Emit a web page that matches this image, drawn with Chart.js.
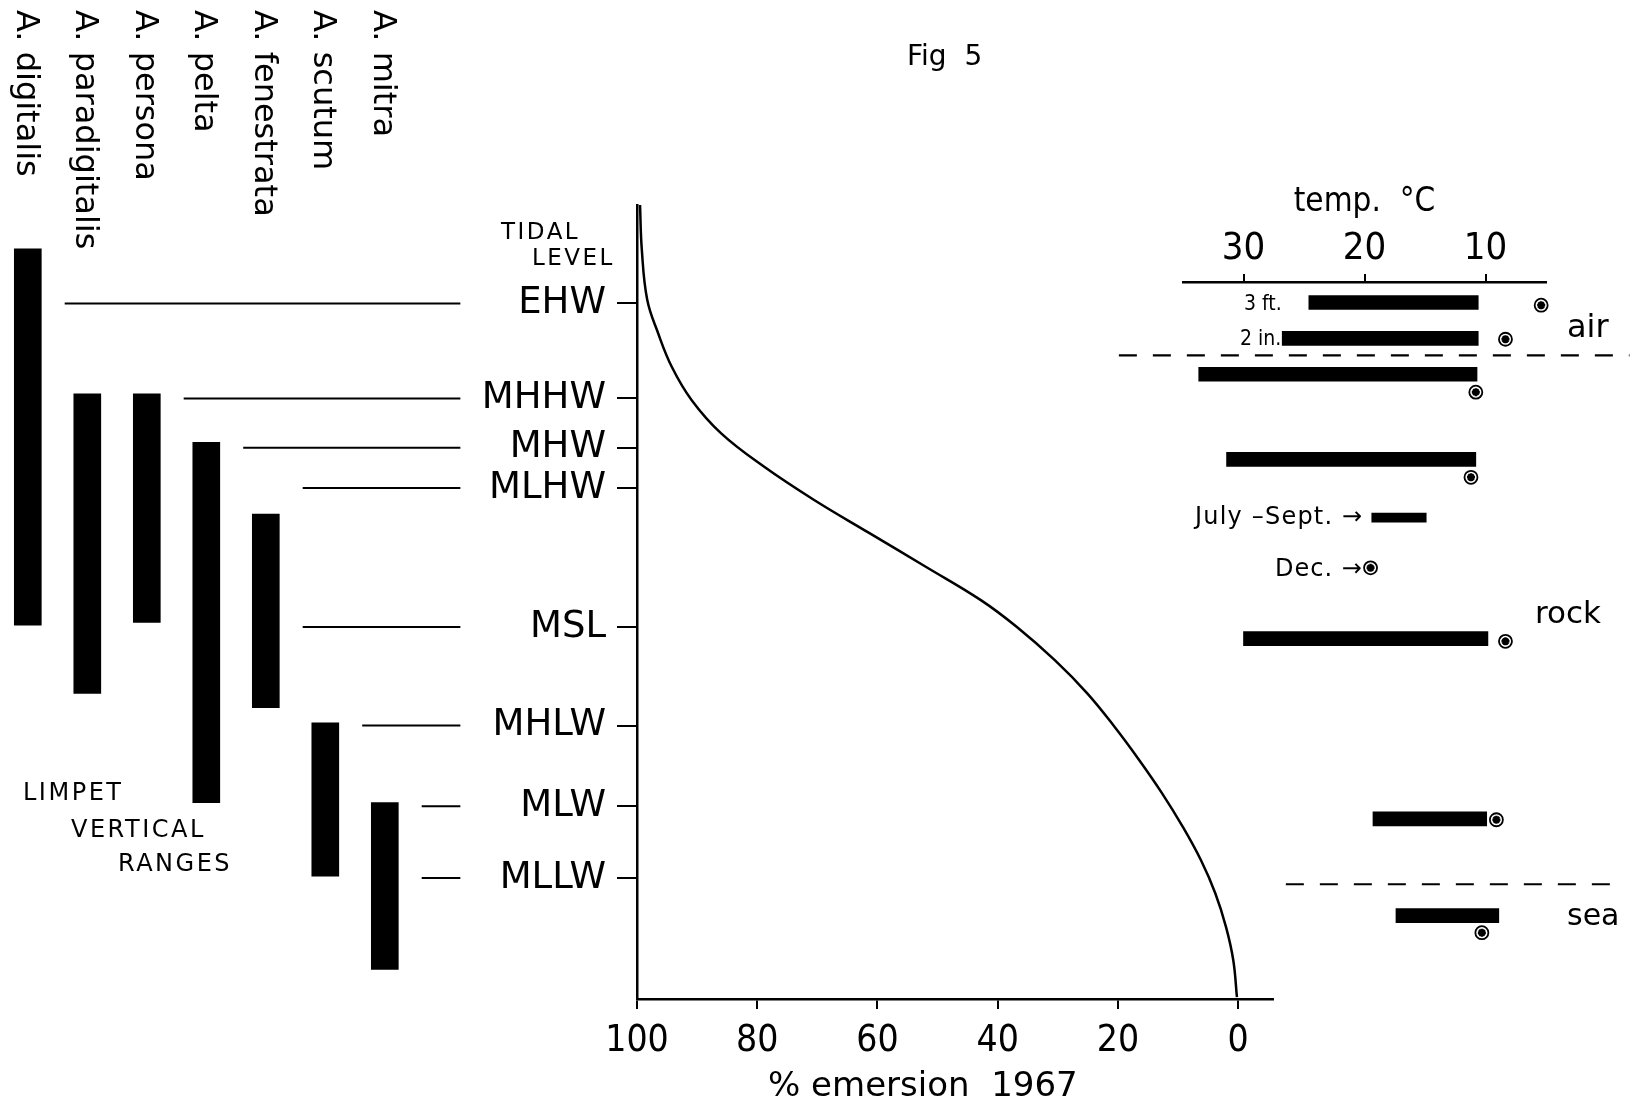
<!DOCTYPE html>
<html>
<head>
<meta charset="utf-8">
<title>Fig 5</title>
<script src="https://cdn.jsdelivr.net/npm/chart.js@4.4.1/dist/chart.umd.min.js"></script>
<style>
  html, body { margin: 0; padding: 0; background: #fff; }
  #wrap { position: relative; width: 1643px; height: 1105px; overflow: hidden; font-family: 'DejaVu Sans', sans-serif; color: #000; }
  #wrap canvas { position: absolute; left: 0; top: 0; }
  .txt { position: absolute; white-space: pre; line-height: 1; }
  .cond { font-family: 'DejaVu Sans Condensed', 'DejaVu Sans', sans-serif; }
  .sp { position: absolute; writing-mode: vertical-rl; font-size: 32px; line-height: 32px; top: 10px; white-space: pre; }
</style>
</head>
<body>
<div id="wrap">
  <canvas id="rangeChart" width="1643" height="1105"></canvas>
  <canvas id="emersionChart" width="1643" height="1105"></canvas>
  <canvas id="tempChart" width="1643" height="1105"></canvas>

  <div class="txt" style="left:907px;top:42px;font-size:28px;">Fig  5</div>
  <div class="txt" style="left:501px;top:220px;font-size:23px;letter-spacing:2.5px;">TIDAL</div>
  <div class="txt" style="left:532px;top:246px;font-size:23px;letter-spacing:2.5px;">LEVEL</div>
  <div class="txt" style="left:23px;top:780px;font-size:24px;letter-spacing:2.5px;">LIMPET</div>
  <div class="txt" style="left:71px;top:817px;font-size:24px;letter-spacing:2.5px;">VERTICAL</div>
  <div class="txt" style="left:118px;top:851px;font-size:24px;letter-spacing:2.5px;">RANGES</div>
  <div class="txt" style="left:768px;top:1067px;font-size:34px;">% emersion  1967</div>

  <div class="txt cond" style="left:1244px;top:293px;font-size:21px;">3 ft.</div>
  <div class="txt cond" style="left:1240px;top:328px;font-size:21px;">2 in.</div>
  <div class="txt" style="left:1567px;top:310px;font-size:32px;">air</div>
  <div class="txt" style="left:1535px;top:597px;font-size:31px;">rock</div>
  <div class="txt" style="left:1567px;top:900px;font-size:30px;">sea</div>
  <div class="txt" style="left:1195px;top:504px;font-size:24px;letter-spacing:1.2px;">July –Sept. →</div>
  <div class="txt" style="left:1275px;top:556px;font-size:24px;letter-spacing:1px;">Dec. →</div>
</div>

<script>
// tidal levels, heights in feet above MLLW
const tidalNames = ['EHW', 'MHHW', 'MHW', 'MLHW', 'MSL', 'MHLW', 'MLW', 'MLLW'];
const tidalHeights = [6.41, 5.35, 4.80, 4.35, 2.80, 1.70, 0.80, 0.00];

// limpet vertical ranges
const species = ['A. digitalis', 'A. paradigitalis', 'A. persona', 'A. pelta', 'A. fenestrata', 'A. scutum', 'A. mitra'];
const rangeTop = [7.02, 5.40, 5.40, 4.86, 4.06, 1.73, 0.84];
const rangeBottom = [2.82, 2.06, 2.85, 0.84, 1.90, 0.02, -1.02];
// guide line for each tidal level starts after this species
const guideAfter = [0, 2, 3, 4, 4, 5, 6, 6];

// % emersion curve 1967
const emersionPct = [99.5, 99.2, 98.3, 96.5, 94.2, 90.9, 86.0, 78.9, 70.6, 61.4, 51.9, 42.8, 36.8, 30.5, 25.1, 20.6, 16.5, 12.7, 9.2, 6.2, 3.8, 2.0, 0.8, 0.2];
const emersionHeight = [7.51, 7.01, 6.45, 6.08, 5.70, 5.33, 4.96, 4.59, 4.22, 3.85, 3.47, 3.10, 2.80, 2.43, 2.06, 1.69, 1.32, 0.95, 0.57, 0.20, -0.17, -0.55, -0.92, -1.33];
const emersionTicks = [100, 80, 60, 40, 20, 0];

// temperature ranges (deg C) for air / rock / sea rows
const tempTicks = [30, 20, 10];
const rowHeight = [6.42, 6.02, 5.62, 4.67, 2.67, 0.66, -0.42];
const tempMax = [24.6, 26.8, 33.7, 31.4, 30.0, 19.3, 17.4];
const tempMin = [10.6, 10.6, 10.7, 10.8, 9.8, 9.9, 8.9];
const extremeTemp = [5.4, 8.35, 10.8, 11.2, 19.5, 8.35, 9.1, 10.3];
const extremeHeight = [6.39, 6.01, 5.42, 4.47, 3.46, 2.64, 0.65, -0.61];
const julySeptTemp = [19.4, 14.9];
const julySeptHeight = 4.02;
const zoneBreaks = [5.83, -0.07];
const zoneBreakSpan = [[40.3, -1.9], [26.5, -1.4]];

const CONDENSED = "'DejaVu Sans Condensed', 'Liberation Sans Narrow', 'DejaVu Sans'";

Chart.defaults.font.family = "'DejaVu Sans', sans-serif";
Chart.defaults.color = '#000';

// page y pixel -> tidal height, so the three panels share one vertical scale
function heightAt(py) {
    return (878 - py) / 89.64;
}

const noPlugins = { legend: { display: false }, tooltip: { enabled: false } };

const rangeChart = new Chart(document.getElementById('rangeChart'), {
    type: 'bar',
    data: {
        datasets: [{
            data: species.map(function(s, i) { return { x: i, y: [rangeBottom[i], rangeTop[i]] }; }),
            backgroundColor: '#000',
            borderWidth: 0,
            barThickness: 27
        }].concat(tidalNames.map(function(n, i) {
            return {
                type: 'line',
                data: [{ x: guideAfter[i] + 0.62, y: tidalHeights[i] }, { x: 7.27, y: tidalHeights[i] }],
                borderColor: '#000',
                borderWidth: 2,
                pointRadius: 0,
                clip: false
            };
        }))
    },
    options: {
        responsive: false,
        animation: false,
        events: [],
        layout: { padding: { left: 4, right: 1163, top: 205, bottom: 106 } },
        plugins: noPlugins,
        scales: {
            x: { type: 'linear', min: -0.4, max: 7.6, display: false, offset: false },
            y: { type: 'linear', min: heightAt(999), max: heightAt(205), display: false }
        }
    }
});

new Chart(document.getElementById('emersionChart'), {
    type: 'line',
    data: {
        datasets: [{
            data: emersionPct.map(function(p, i) { return { x: p, y: emersionHeight[i] }; }),
            borderColor: '#000',
            borderWidth: 2.5,
            pointRadius: 0,
            tension: 0.4,
            fill: false
        }]
    },
    options: {
        responsive: false,
        animation: false,
        events: [],
        layout: { padding: { left: 437, right: 370, top: 205, bottom: 46 } },
        plugins: noPlugins,
        scales: {
            x: {
                type: 'linear', reverse: true, min: -5.8, max: 100,
                afterBuildTicks: function(s) { s.ticks = emersionTicks.map(function(v) { return { value: v }; }); },
                afterFit: function(s) { s.height = 60; },
                border: { display: true, color: '#000', width: 2.5 },
                grid: { drawOnChartArea: false, color: '#000', lineWidth: 2, tickLength: 10 },
                ticks: { color: '#000', font: { family: CONDENSED, size: 37 }, padding: 10, maxRotation: 0, autoSkip: false }
            },
            y: {
                type: 'linear', min: heightAt(999), max: heightAt(205),
                afterBuildTicks: function(s) { s.ticks = tidalHeights.map(function(v) { return { value: v }; }); },
                afterFit: function(s) { s.width = 200; },
                border: { display: true, color: '#000', width: 2.5 },
                grid: { drawOnChartArea: false, color: '#000', lineWidth: 2, tickLength: 20 },
                ticks: {
                    color: '#000', font: { size: 37 }, padding: 11, autoSkip: false,
                    callback: function(v, i) { return tidalNames[i]; }
                }
            }
        }
    }
});

const markerData = extremeTemp.map(function(t, i) { return { x: t, y: extremeHeight[i] }; });

new Chart(document.getElementById('tempChart'), {
    type: 'bar',
    data: {
        datasets: [{
            data: rowHeight.map(function(h, i) { return { y: h, x: [tempMax[i], tempMin[i]] }; }),
            backgroundColor: '#000',
            borderWidth: 0,
            barThickness: 14,
            grouped: false,
            order: 0
        }, {
            data: [{ y: julySeptHeight, x: julySeptTemp }],
            backgroundColor: '#000',
            borderWidth: 0,
            barThickness: 9,
            grouped: false,
            order: 0
        }, {
            // extreme readings: open circle ...
            type: 'line',
            data: markerData,
            showLine: false,
            pointStyle: 'circle',
            pointRadius: 6.5,
            pointBorderWidth: 1.8,
            pointBackgroundColor: '#fff',
            pointBorderColor: '#000',
            clip: false,
            order: 3
        }, {
            // ... with a star inside
            type: 'line',
            data: markerData,
            showLine: false,
            pointStyle: 'star',
            pointRadius: 4,
            pointBorderWidth: 2.5,
            pointBorderColor: '#000',
            clip: false,
            order: 2
        }].concat(zoneBreaks.map(function(h, i) {
            return {
                type: 'line',
                data: [{ x: zoneBreakSpan[i][0], y: h }, { x: zoneBreakSpan[i][1], y: h }],
                borderColor: '#000',
                borderWidth: 2.2,
                borderDash: [18, 16],
                pointRadius: 0,
                clip: false,
                order: 1
            };
        }))
    },
    options: {
        indexAxis: 'y',
        responsive: false,
        animation: false,
        events: [],
        layout: { padding: { left: 1183, right: 97, top: 176, bottom: 106 } },
        plugins: noPlugins,
        scales: {
            x: {
                type: 'linear', position: 'top', reverse: true, min: 5, max: 35,
                afterBuildTicks: function(s) { s.ticks = tempTicks.map(function(v) { return { value: v }; }); },
                afterFit: function(s) { s.height = 106; },
                title: { display: true, text: 'temp.  °C', color: '#000', font: { family: CONDENSED, size: 33 }, padding: { top: 7, bottom: 0 } },
                border: { display: true, color: '#000', width: 2.5 },
                grid: { drawOnChartArea: false, color: '#000', lineWidth: 2, tickLength: 8 },
                ticks: { color: '#000', font: { family: CONDENSED, size: 38 }, padding: 2, maxRotation: 0, autoSkip: false }
            },
            y: { type: 'linear', min: heightAt(999), max: heightAt(282), display: false, offset: false }
        }
    }
});

// species names, rotated, placed over their bars
const wrap = document.getElementById('wrap');
species.forEach(function(name, i) {
    const div = document.createElement('div');
    div.className = 'sp';
    div.textContent = name;
    div.style.left = (rangeChart.scales.x.getPixelForValue(i) - 16) + 'px';
    wrap.appendChild(div);
});
</script>
</body>
</html>
